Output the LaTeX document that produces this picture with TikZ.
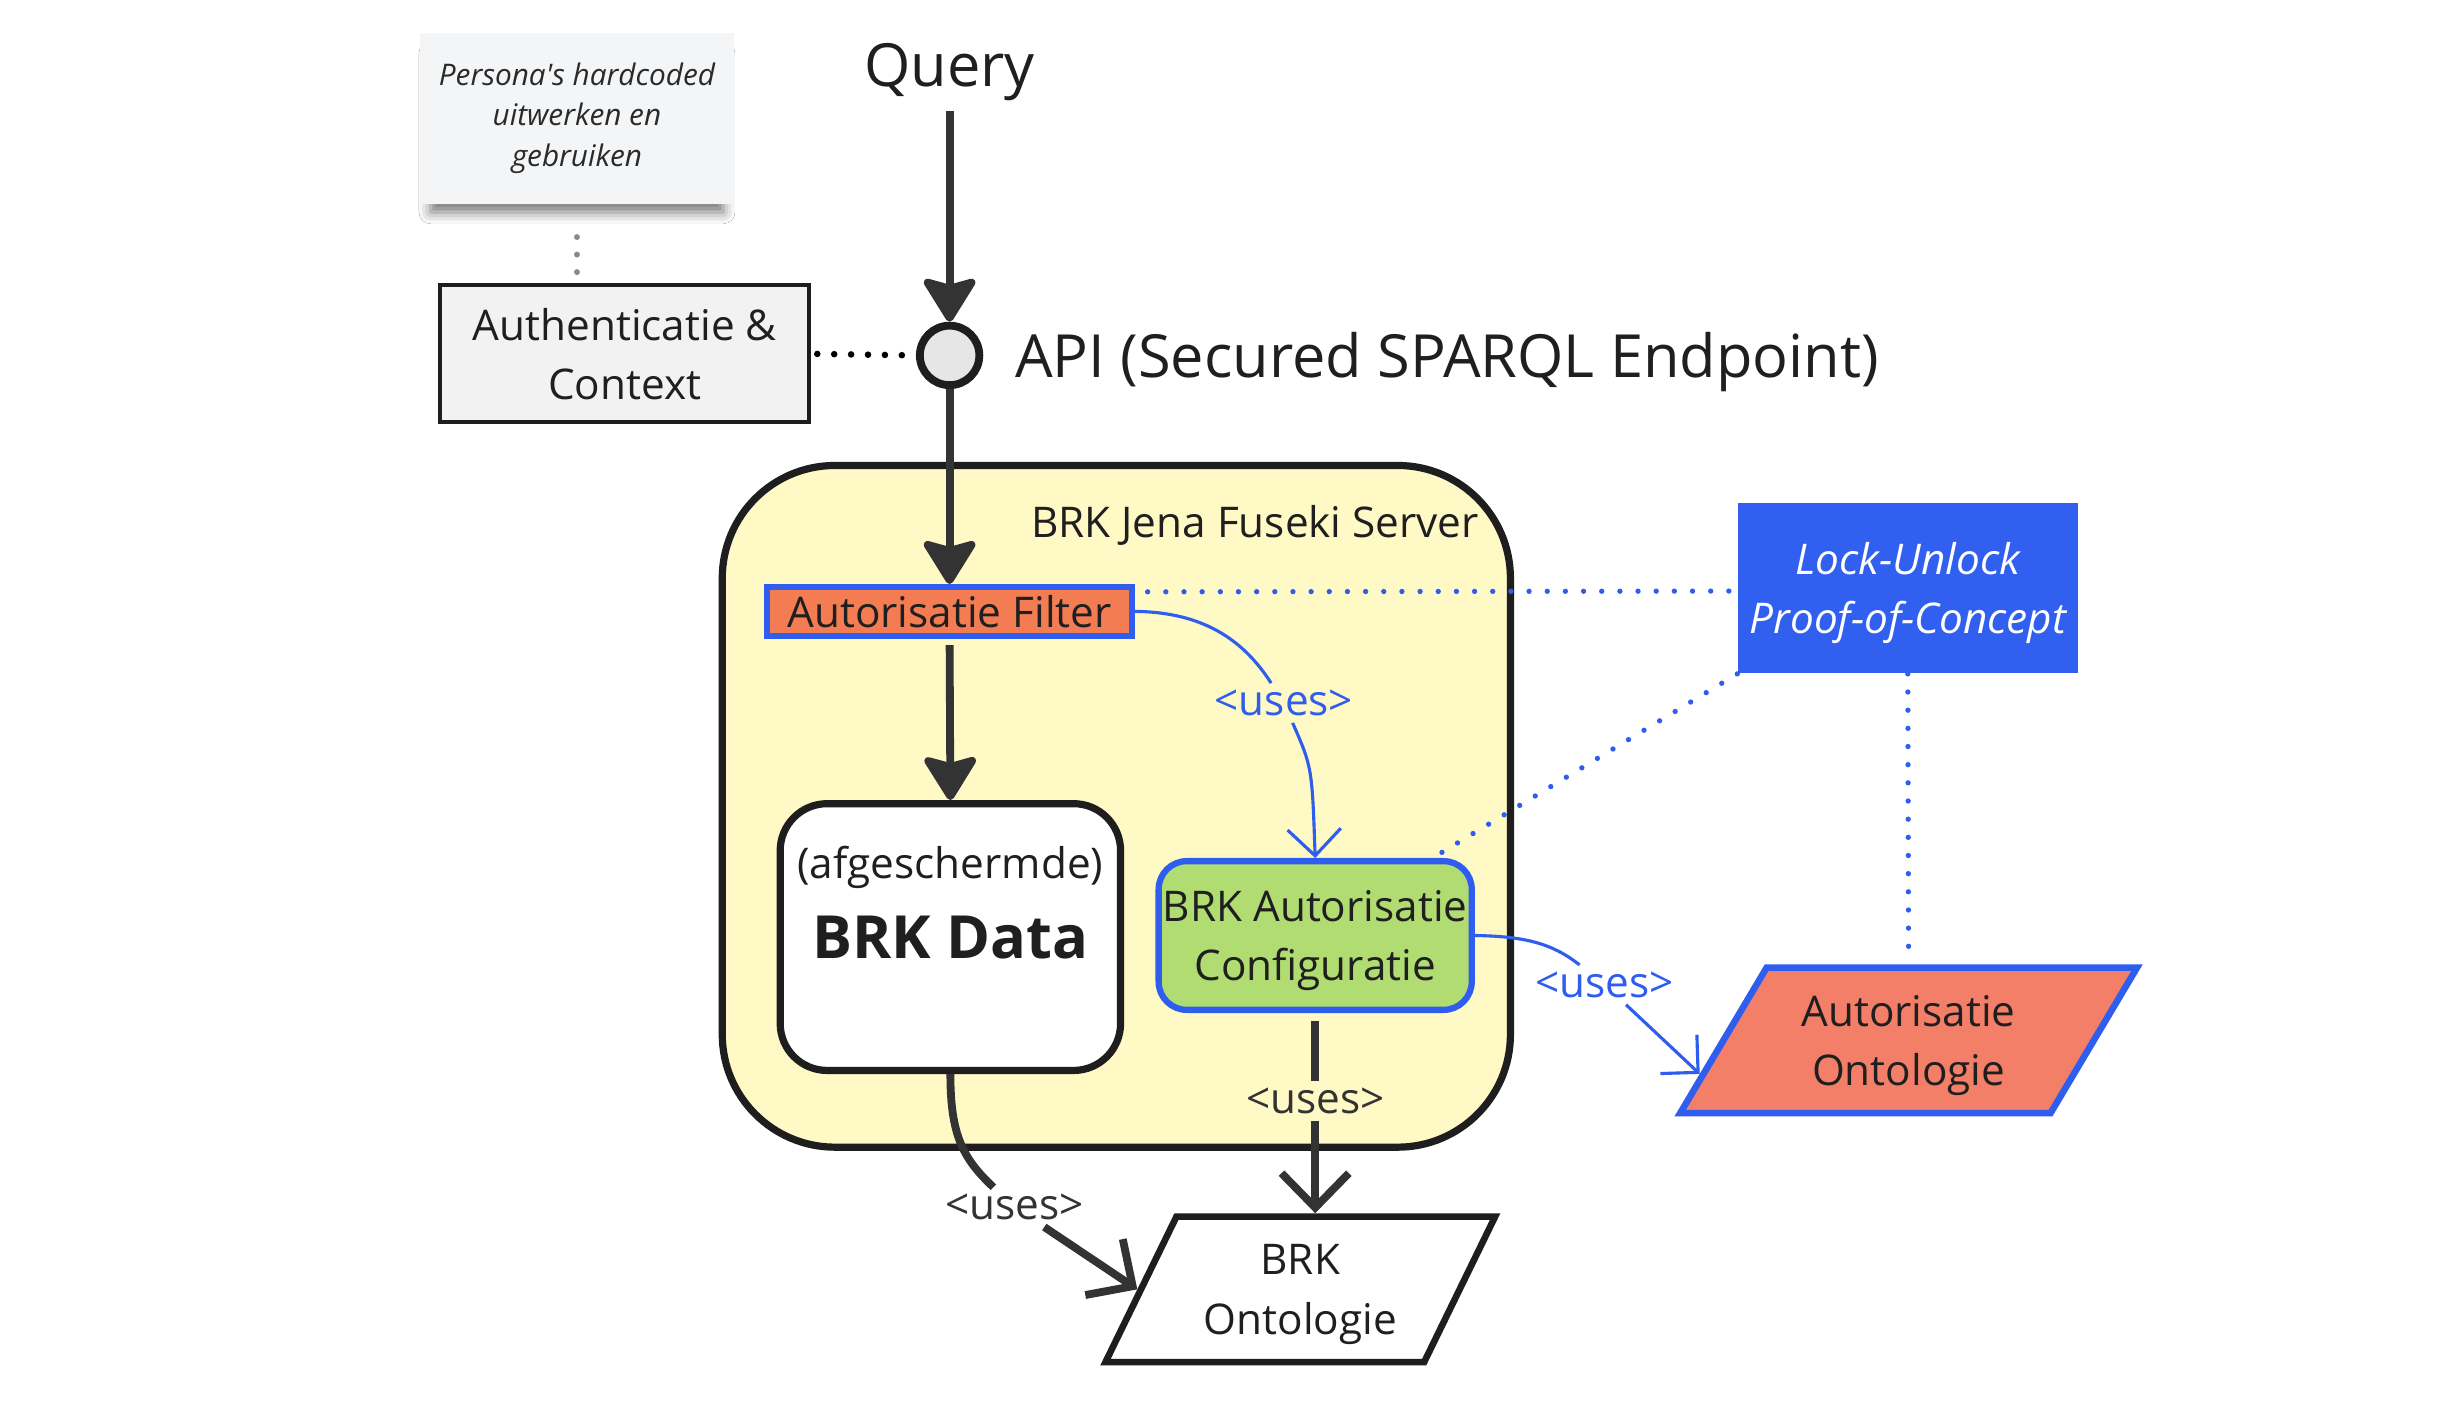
\documentclass[tikz,border=0pt]{standalone}
\usepackage{fontspec}
\setmainfont{Open Sans}
\usetikzlibrary{arrows.meta,shapes.geometric,shadows.blur,calc}
\definecolor{darkline}{HTML}{333333}
\definecolor{boxline}{HTML}{1E1E1E}
\definecolor{yel}{HTML}{FFF9C6}
\definecolor{orng}{HTML}{F47C53}
\definecolor{blu}{HTML}{2F5DEE}
\definecolor{grn}{HTML}{B1DC72}
\definecolor{salm}{HTML}{F47F68}
\definecolor{lockblue}{HTML}{315FF0}
\definecolor{authfill}{HTML}{F2F2F2}
\definecolor{circfill}{HTML}{E6E6E6}
\definecolor{stickyfill}{HTML}{F4F5F7}
\definecolor{txt}{HTML}{1F1F1F}
\definecolor{sticktext}{HTML}{2A2A2A}
\definecolor{dotgray}{HTML}{8A8A8A}
\newcommand\fsBig{\fontsize{19pt}{23pt}\selectfont}
\newcommand\fsMain{\fontsize{13.5pt}{19pt}\selectfont}
\newcommand\fsSmall{\fontsize{9.5pt}{13pt}\selectfont}
\begin{document}
\begin{tikzpicture}[x=0.5pt,y=-0.5pt,
  every node/.style={font=\fsMain, text=txt},
  sticky/.style={rectangle, fill=stickyfill, minimum width=100.5pt, minimum height=54.5pt, inner sep=0pt, align=center, font=\fsSmall\itshape, text=sticktext,
    blur shadow={shadow xshift=0pt, shadow yshift=-5pt, shadow blur radius=4pt, shadow opacity=55, shadow scale=0.93}},
  authbox/.style={rectangle, draw=boxline, line width=1.25pt, fill=authfill, minimum width=117.75pt, minimum height=43.75pt, align=center, inner sep=0pt, text depth=0pt},
  apicirc/.style={circle, draw=boxline, line width=2.5pt, fill=circfill, minimum size=19pt, inner sep=0pt},
  serverbox/.style={rectangle, rounded corners=36pt, draw=boxline, line width=2.3pt, fill=yel, minimum width=251.7pt, minimum height=217.7pt},
  filterbox/.style={rectangle, draw=blu, line width=1.9pt, fill=orng, minimum width=116.6pt, minimum height=15.6pt, inner sep=0pt},
  databox/.style={rectangle, rounded corners=15pt, draw=boxline, line width=2.3pt, fill=white, minimum width=108.7pt, minimum height=85.2pt},
  configbox/.style={rectangle, rounded corners=9pt, draw=blu, line width=2pt, fill=grn, minimum width=100pt, minimum height=47.5pt, align=center, inner sep=0pt, text depth=0pt},
  lockbox/.style={rectangle, fill=lockblue, minimum width=108.5pt, minimum height=54.5pt, align=center, inner sep=0pt, text=white, font=\fsMain\itshape, text depth=0pt},
  brkontshape/.style={trapezium, trapezium left angle=58.3, trapezium right angle=121.7, trapezium stretches=true, minimum width=124.5pt, minimum height=46.5pt, draw=boxline, line width=2.1pt, fill=white, align=center, inner sep=0pt, text depth=0pt},
  autontshape/.style={trapezium, trapezium left angle=54.2, trapezium right angle=125.8, trapezium stretches=true, minimum width=146pt, minimum height=46.5pt, draw=blu, line width=2.1pt, fill=salm, align=center, inner sep=0pt, text depth=0pt},
  useslabel/.style={inner sep=2pt, text=darkline},
  bluelabel/.style={inner sep=2pt, text=blu},
  darkarrow/.style={draw=darkline, line width=2.5pt, -{Stealth[length=15.5pt, width=19pt, inset=2.5pt, round]}},
  darkplain/.style={draw=darkline, line width=2.5pt},
  darkV/.style={draw=darkline, line width=2.5pt, -{Straight Barb[length=11pt, width=21.5pt]}},
  blueplain/.style={draw=blu, line width=1pt},
  blueV/.style={draw=blu, line width=1pt, -{Straight Barb[length=8.5pt, width=17pt]}},
  bluedot/.style={draw=blu, line width=1.7pt, line cap=round, dash pattern=on 0pt off 5.8pt},
  blackdot/.style={draw=black, line width=2.1pt, line cap=round, dash pattern=on 0pt off 5.4pt},
  graydot/.style={draw=dotgray, line width=1.9pt, line cap=round, dash pattern=on 0pt off 5.6pt}
]
\useasboundingbox (0,0) rectangle (1568,897);
\fill[white] (0,0) rectangle (1568,897);

% container
\node[serverbox] (server) at (713,515) {};
\node[anchor=base east, inner sep=0pt] (serverlabel) at (945,343.5) {BRK Jena Fuseki Server};

% top
\node[sticky] (persona) at (368.5,75.5) {Persona\textquotesingle s hardcoded\\uitwerken en\\gebruiken};
\node[authbox] (auth) at (399,226) {Authenticatie \&\\Context};
\node[apicirc] (api) at (606.5,227) {};
\node[anchor=base, font=\fsBig] (query) at (606.5,55) {Query};
\node[anchor=base west, inner sep=0pt, font=\fsBig] (apilabel) at (648,241) {API (Secured SPARQL Endpoint)};

% inner nodes
\node[filterbox] (filter) at (606.5,390.5) {Autorisatie Filter};
\node[databox] (brkdata) at (607,598.5) {};
\node[anchor=base, inner sep=0pt] (datalabelA) at (607,561) {(afgeschermde)};
\node[anchor=base, inner sep=0pt, font=\fsBig\bfseries] (datalabelB) at (607,612) {BRK Data};
\node[configbox] (config) at (840,597.5) {BRK Autorisatie\\Configuratie};

% right side
\node[lockbox] (lock) at (1218.5,375.5) {Lock-Unlock\\Proof-of-Concept};
\node[autontshape] (autont) at (1219,664.5) {Autorisatie\\Ontologie};
\node[brkontshape] (brkont) at (830.5,823.5) {BRK\\Ontologie};

% labels
\node[bluelabel] (uses1) at (820,449) {<uses>};
\node[useslabel] (uses2) at (840,703) {<uses>};
\node[useslabel] (uses3) at (648,771) {<uses>};
\node[bluelabel] (uses4) at (1025,629) {<uses>};

% connectors
\draw[darkarrow] (query.south) -- (api.north);
\draw[darkarrow] (api.south) -- (filter.north);
\draw[darkarrow, shorten <=2pt] (filter.south) -- (brkdata.north);
\draw[blackdot, shorten <=2pt] (auth.east) -- (api.west);
\draw[graydot, shorten <=10.5pt, shorten >=2pt] (persona.south) -- (persona.south |- auth.north);
\draw[bluedot] ([xshift=4pt,yshift=-2.5pt]filter.north east) -- ([yshift=-1pt]lock.west);
\draw[bluedot] (lock.south west) -- ([xshift=-13.5pt]config.north east);
\draw[bluedot, shorten >=5pt] (lock.south) -- (autont.north);
\draw[blueplain] (filter.east) .. controls (770,391) and (795,410) .. (uses1);
\draw[blueV] (uses1) .. controls (838,490) .. (config.north);
\draw[blueplain] (config.east) .. controls (975,598) and (992,603) .. (uses4);
\draw[blueV] (uses4) -- ($(autont.bottom left corner)!0.28!(autont.top left corner)$);
\draw[darkplain, shorten <=2.5pt] (config.south) -- (uses2);
\draw[darkV] (uses2) -- (uses2 |- brkont.north);
\draw[darkplain] (brkdata.south) .. controls (607,725) and (615,740) .. (uses3);
\draw[darkV] (uses3) -- (brkont.left side);
\end{tikzpicture}
\end{document}
